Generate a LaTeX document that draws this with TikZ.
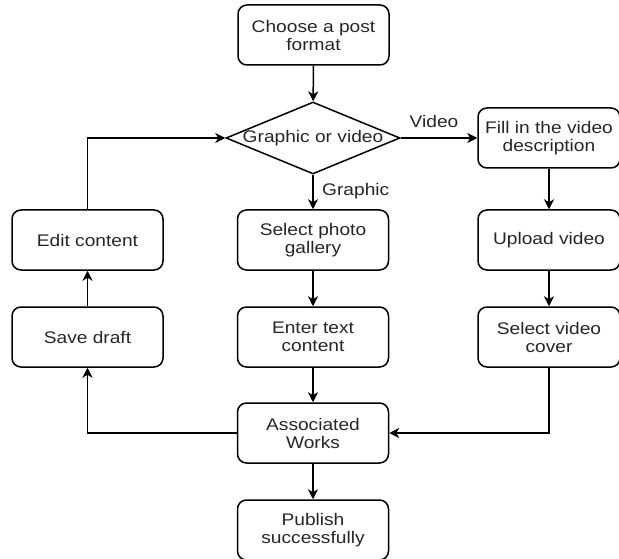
\documentclass[tikz,border=0pt]{standalone}
\usepackage{fontspec}
\setmainfont{Liberation Sans}[FakeStretch=1.14]
\usetikzlibrary{shapes.geometric,arrows.meta}
\begin{document}
\begin{tikzpicture}[x=1pt,y=-1pt,
  every node/.style={font=\fontsize{16.8}{18}\selectfont, text=black!85},
  stepbox/.style={draw, line width=1.5pt, rounded corners=9pt, minimum height=60pt, align=center, inner sep=0pt},
  wide/.style={stepbox, minimum width=151pt},
  narrow/.style={stepbox, minimum width=142pt},
  conn/.style={line width=1.5pt, -{Stealth[length=10pt,width=10pt,inset=3pt]}},
  lbl/.style={inner sep=0pt}]
\useasboundingbox (0,0) rectangle (619,559);
\node[wide] (choose) at (313.5,35) {Choose a post\\format};
\node[diamond, draw, line width=1.5pt, minimum width=174pt, minimum height=72pt, inner sep=0pt] (dec) at (313,138) {};
\node at (dec) {Graphic or video};
\node[narrow] (fill) at (549,138) {Fill in the video\\description};
\node[wide] (edit) at (87.5,240) {Edit content};
\node[wide] (save) at (87.5,337) {Save draft};
\node[wide] (photo) at (313,240) {Select photo\\gallery};
\node[wide] (enter) at (313,337) {Enter text\\content};
\node[narrow] (upload) at (549,240) {Upload video};
\node[narrow] (cover) at (549,337) {Select video\\cover};
\node[wide] (assoc) at (313,433) {Associated\\Works};
\node[wide] (pub) at (313,530) {Publish\\successfully};
\node[lbl] (vlbl) at (434,121) {Video};
\node[lbl, anchor=west] (glbl) at (322,191) {Graphic};
\draw[conn] (choose) -- (dec);
\draw[conn] (dec.east) -- (fill.west);
\draw[conn] (dec.south) -- (photo.north);
\draw[conn] (fill) -- (upload);
\draw[conn] (upload) -- (cover);
\draw[conn] (cover.south) |- (assoc.east);
\draw[conn] (photo) -- (enter);
\draw[conn] (enter) -- (assoc);
\draw[conn] (assoc.west) -| (save.south);
\draw[conn] (save) -- (edit);
\draw[conn] (edit.north) |- (dec.west);
\draw[conn] (assoc) -- (pub);
\end{tikzpicture}
\end{document}
